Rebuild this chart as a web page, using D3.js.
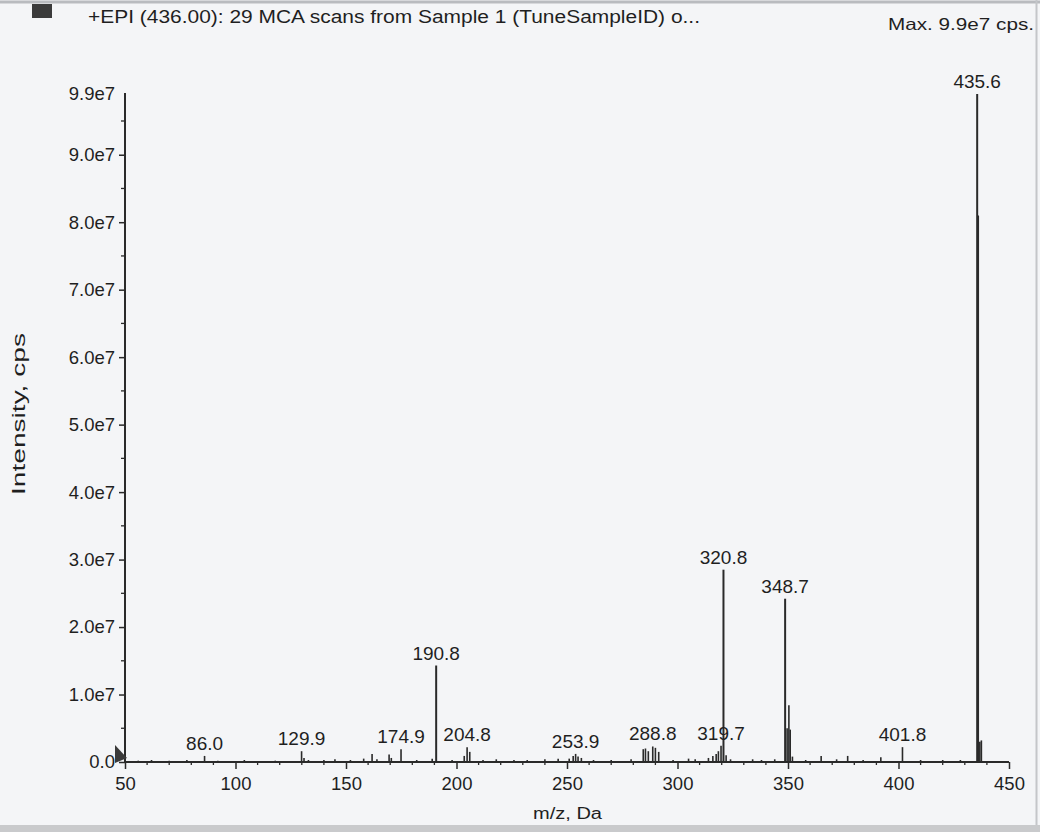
<!DOCTYPE html>
<html>
<head>
<meta charset="utf-8">
<script src="https://cdn.jsdelivr.net/npm/d3@7"></script>
<style>
  html, body { margin: 0; padding: 0; background: #f4f5f7; }
  svg { display: block; }
  text { font-family: "Liberation Sans", Arial, sans-serif; fill: #1f1f1f; }
</style>
</head>
<body>
<svg id="chart" width="1040" height="832"></svg>
<script>
// Product ion spectrum: m/z positions and intensities (cps)
const peakMz = [56, 62, 70, 78, 86.0, 92, 104, 118, 129.9, 131, 133, 140, 145, 152, 158,
  161.8, 164, 169.5, 170.5, 174.9, 182, 189, 190.8, 198, 203.5, 204.8, 206, 212, 218, 226,
  232, 240, 246, 251, 252.8, 253.9, 255, 256.5, 262, 270, 279, 284.5, 285.5, 286.8, 288.8,
  290, 291.5, 298, 305, 308, 314, 316, 317.5, 318.5, 319.7, 320.8, 322, 324, 334, 338, 344,
  348.7, 349.6, 350.4, 351, 352, 358, 365, 372, 377, 384, 392, 401.8, 410, 420, 428,
  435.6, 436.0, 436.8, 437.5];
const peakIntensity = [0.2e6, 0.3e6, 0.2e6, 0.3e6, 0.9e6, 0.2e6, 0.3e6, 0.2e6, 1.6e6, 0.6e6, 0.3e6, 0.3e6, 0.4e6, 0.3e6, 0.5e6,
  1.2e6, 0.4e6, 1.1e6, 0.6e6, 1.9e6, 0.3e6, 0.5e6, 14.3e6, 0.3e6, 0.9e6, 2.2e6, 1.5e6, 0.3e6, 0.4e6, 0.3e6,
  0.3e6, 0.4e6, 0.5e6, 0.5e6, 0.9e6, 1.2e6, 0.8e6, 0.6e6, 0.3e6, 0.3e6, 0.4e6, 1.9e6, 2.0e6, 1.6e6, 2.3e6,
  2.1e6, 1.5e6, 0.3e6, 0.5e6, 0.4e6, 0.6e6, 0.9e6, 1.2e6, 1.6e6, 2.4e6, 28.5e6, 1.0e6, 0.4e6, 0.4e6, 0.3e6, 0.4e6,
  24.2e6, 5.0e6, 8.4e6, 4.8e6, 0.8e6, 0.3e6, 0.9e6, 0.4e6, 0.9e6, 0.3e6, 0.7e6, 2.2e6, 0.3e6, 0.3e6, 0.3e6,
  99e6, 81e6, 3.0e6, 3.2e6];

// Peaks annotated with their m/z
const labeledMz = [86.0, 129.9, 174.9, 190.8, 204.8, 253.9, 288.8, 319.7, 320.8, 348.7, 401.8, 435.6];

// Axis ticks
const xMajorTicks = [50, 100, 150, 200, 250, 300, 350, 400, 450];
const yMajorTicks = [0, 1e7, 2e7, 3e7, 4e7, 5e7, 6e7, 7e7, 8e7, 9e7, 9.9e7];

const titleText = "+EPI (436.00): 29 MCA scans from Sample 1 (TuneSampleID) o...";
const maxText = "Max. 9.9e7 cps.";
const xTitle = "m/z, Da";
const yTitle = "Intensity, cps";

const svg = d3.select("#chart");
const ink = "#2a2a2a";
const fontFamily = "'Liberation Sans', Arial, sans-serif";

const x = d3.scaleLinear().domain([50, 450]).range([125, 1009]);
const y = d3.scaleLinear().domain([0, 9.9e7]).range([762, 94]);

// Window frame
svg.append("rect").attr("x", 0).attr("y", 0).attr("width", 1040).attr("height", 832).attr("fill", "#f4f5f7");
svg.append("line").attr("x1", 0).attr("x2", 1040).attr("y1", 2).attr("y2", 2)
  .attr("stroke", "#b9bbbf").attr("stroke-width", 3);
svg.append("rect").attr("x", 0).attr("y", 825).attr("width", 1040).attr("height", 7).attr("fill", "#c9cacc");
svg.append("line").attr("x1", 1036.5).attr("x2", 1036.5).attr("y1", 0).attr("y2", 825)
  .attr("stroke", "#c4c6c9").attr("stroke-width", 2);

// Header
svg.append("rect").attr("x", 32).attr("y", 4).attr("width", 20).attr("height", 14).attr("fill", "#3b3b3b");
svg.append("text").attr("x", 88).attr("y", 23).attr("font-size", 17.5)
  .attr("textLength", 612).attr("lengthAdjust", "spacingAndGlyphs").text(titleText);
svg.append("text").attr("x", 888).attr("y", 30).attr("font-size", 16.5)
  .attr("textLength", 146).attr("lengthAdjust", "spacingAndGlyphs").text(maxText);

// Y axis
const fmtY = d => d === 0 ? "0.0" : (d / 1e7).toFixed(1) + "e7";
const yAxis = d3.axisLeft(y).tickValues(yMajorTicks).tickFormat(fmtY).tickSize(6).tickPadding(4);
const gy = svg.append("g").attr("transform", "translate(125,0)").call(yAxis);
gy.select(".domain").attr("stroke", ink).attr("stroke-width", 2).attr("d", `M0,${y(0)}V${y(9.9e7) - 1}`);
gy.selectAll(".tick line").attr("stroke", ink).attr("stroke-width", 1.5);
gy.selectAll(".tick").filter(d => d === 9.9e7).select("line").remove();
gy.selectAll(".tick text").attr("font-size", 18.5).attr("fill", "#1f1f1f").style("font-family", fontFamily);
// Minor y ticks every 5e6
const yMinor = d3.range(5e6, 9.9e7, 1e7);
svg.append("g").selectAll("line").data(yMinor).join("line")
  .attr("x1", 121).attr("x2", 126).attr("y1", d => y(d)).attr("y2", d => y(d))
  .attr("stroke", ink).attr("stroke-width", 1.3);

// X axis
const xAxis = d3.axisBottom(x).tickValues(xMajorTicks).tickFormat(d3.format("d")).tickSize(7).tickPadding(8);
const gx = svg.append("g").attr("transform", `translate(0,${y(0)})`).call(xAxis);
gx.select(".domain").attr("stroke", ink).attr("stroke-width", 2).attr("d", `M${x(50)},0H${x(450)}`);
gx.selectAll(".tick line").attr("stroke", ink).attr("stroke-width", 1.5);
gx.selectAll(".tick text").attr("font-size", 18.5).attr("fill", "#1f1f1f").style("font-family", fontFamily);
// Minor x ticks every 10
const xMinor = d3.range(60, 450, 10).filter(v => v % 50 !== 0);
svg.append("g").selectAll("line").data(xMinor).join("line")
  .attr("x1", d => x(d)).attr("x2", d => x(d)).attr("y1", y(0)).attr("y2", y(0) + 3)
  .attr("stroke", ink).attr("stroke-width", 1.3);

// Axis titles
svg.append("text").attr("x", 533).attr("y", 819).attr("font-size", 16)
  .attr("textLength", 69).attr("lengthAdjust", "spacingAndGlyphs").text(xTitle);
svg.append("text").attr("transform", "translate(25,495) rotate(-90)").attr("font-size", 18)
  .attr("textLength", 162).attr("lengthAdjust", "spacingAndGlyphs").text(yTitle);

// Peak sticks
const peaks = peakMz.map((m, i) => ({ mz: m, v: peakIntensity[i] }));
svg.append("g").selectAll("line").data(peaks).join("line")
  .attr("x1", d => x(d.mz)).attr("x2", d => x(d.mz))
  .attr("y1", y(0)).attr("y2", d => y(d.v))
  .attr("stroke", ink)
  .attr("stroke-width", d => d.v > 1e7 ? 2 : 1.6);

// Peak annotations
const labelData = peaks.filter(p => labeledMz.includes(p.mz));
svg.append("g").selectAll("text").data(labelData).join("text")
  .attr("x", d => x(d.mz)).attr("y", d => y(d.v) - 6)
  .attr("text-anchor", "middle").attr("font-size", 19)
  .text(d => d.mz.toFixed(1));

// Origin marker
const ox = x(50), oy = y(0);
svg.append("path")
  .attr("d", `M${ox - 10},${oy - 17}L${ox + 2},${oy - 4}L${ox - 10},${oy + 1}Z`)
  .attr("fill", "#3a3a3a");
</script>
</body>
</html>
